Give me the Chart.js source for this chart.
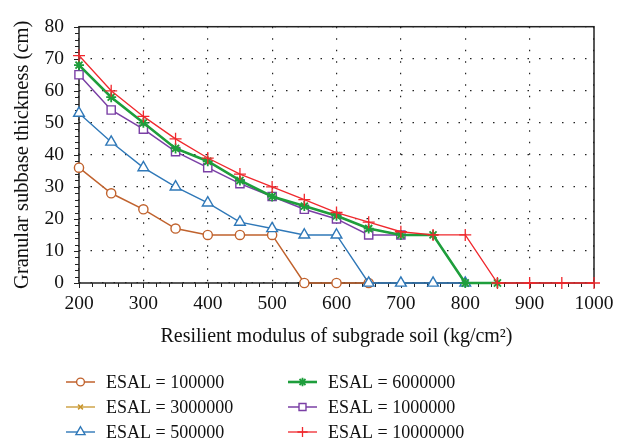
<!DOCTYPE html>
<html>
<head>
<meta charset="utf-8">
<script src="https://cdn.jsdelivr.net/npm/chart.js@4.4.0/dist/chart.umd.min.js"></script>
<style>
  html, body { margin: 0; padding: 0; background: #fff; }
  canvas { display: block; }
</style>
</head>
<body>
<canvas id="myChart" width="629" height="448"></canvas>
<script>
// x values (kg/cm2) and thickness (cm) for each ESAL
const modulus = [200, 250, 300, 350, 400, 450, 500, 550, 600, 650, 700, 750, 800, 850, 900, 950, 1000];
const esal100k = [36, 28, 23, 17, 15, 15, 15, 0, 0, 0];
const esal3m = [68, 58, 50, 42, 38, 32, 27, 24, 21, 17, 15, 15, 0, 0];
const esal500k = [53, 44, 36, 30, 25, 19, 17, 15, 15, 0, 0, 0, 0];
const esal6m = [68, 58, 50, 42, 38, 32, 27, 24, 21, 17, 15, 15, 0, 0];
const esal1m = [65, 54, 48, 41, 36, 31, 27, 23, 20, 15, 15];
const esal10m = [71, 60, 52, 45, 39, 34, 30, 26, 22, 19, 16, 15, 15, 0, 0, 0, 0];

const xTicks = [200, 300, 400, 500, 600, 700, 800, 900, 1000];
const yTicks = [0, 10, 20, 30, 40, 50, 60, 70, 80];

const serif = "'Liberation Serif', 'DejaVu Serif', serif";

function pts(arr) {
  return arr.map((v, i) => ({ x: modulus[i], y: v }));
}

// first dataset is drawn on top
const datasets = [
  { label: 'ESAL = 10000000', data: pts(esal10m), borderColor: '#f0282d', backgroundColor: '#f0282d',
    borderWidth: 1.3, pointStyle: 'cross', pointRadius: 6, pointBorderWidth: 1.3 },
  { label: 'ESAL = 6000000', data: pts(esal6m), borderColor: '#1e9e3c', backgroundColor: '#1e9e3c',
    borderWidth: 2.6, pointStyle: 'star', pointRadius: 5, pointBorderWidth: 1.8 },
  { label: 'ESAL = 3000000', data: pts(esal3m), borderColor: '#c8962d', backgroundColor: '#c8962d',
    borderWidth: 1.3, pointStyle: 'crossRot', pointRadius: 4, pointBorderWidth: 1.5 },
  { label: 'ESAL = 1000000', data: pts(esal1m), borderColor: '#7a3fa5', backgroundColor: '#fff',
    borderWidth: 1.5, pointStyle: 'rect', pointRadius: 5.8, pointBorderWidth: 1.4 },
  { label: 'ESAL = 500000', data: pts(esal500k), borderColor: '#2f78b8', backgroundColor: '#fff',
    borderWidth: 1.4, pointStyle: 'triangle', pointRadius: 6.2, pointBorderWidth: 1.4 },
  { label: 'ESAL = 100000', data: pts(esal100k), borderColor: '#c0622d', backgroundColor: '#fff',
    borderWidth: 1.5, pointStyle: 'circle', pointRadius: 4.6, pointBorderWidth: 1.4 }
];
datasets.forEach(d => { d.clip = false; });

// legend columns, by label
const legendCols = [
  ['ESAL = 100000', 'ESAL = 3000000', 'ESAL = 500000'],
  ['ESAL = 6000000', 'ESAL = 1000000', 'ESAL = 10000000']
];

const framePlugin = {
  id: 'frame',
  beforeDatasetsDraw(chart) {
    const ctx = chart.ctx;
    const a = chart.chartArea;
    const xs = chart.scales.x, ys = chart.scales.y;
    ctx.save();
    ctx.strokeStyle = '#222';
    ctx.lineWidth = 1.5;
    ctx.strokeRect(a.left, a.top, a.right - a.left, a.bottom - a.top);
    // outward tick marks (minor every 20 / 2)
    ctx.lineWidth = 1;
    ctx.beginPath();
    for (let v = xs.min; v <= xs.max; v += 20) {
      const px = Math.round(xs.getPixelForValue(v)) + 0.5;
      const len = v % 100 === 0 ? 5 : 4;
      ctx.moveTo(px, a.bottom);
      ctx.lineTo(px, a.bottom + len);
    }
    for (let v = ys.min; v <= ys.max; v += 2) {
      const py = Math.round(ys.getPixelForValue(v)) + 0.5;
      const len = v % 10 === 0 ? 5 : 4;
      ctx.moveTo(a.left, py);
      ctx.lineTo(a.left - len, py);
    }
    ctx.stroke();
    ctx.restore();
  },
  afterDraw(chart) {
    const ctx = chart.ctx;
    ctx.save();
    // legend in two columns
    const colX = [66, 288];
    const rowY = [382, 407, 432];
    ctx.font = '18px ' + serif;
    ctx.textBaseline = 'middle';
    ctx.fillStyle = '#111';
    legendCols.forEach((col, c) => {
      col.forEach((lab, r) => {
        const ds = chart.data.datasets.find(d => d.label === lab);
        const x0 = colX[c], y = rowY[r];
        ctx.save();
        ctx.strokeStyle = ds.borderColor;
        ctx.lineWidth = ds.borderWidth;
        ctx.beginPath();
        ctx.moveTo(x0, y);
        ctx.lineTo(x0 + 29, y);
        ctx.stroke();
        ctx.fillStyle = ds.backgroundColor;
        ctx.lineWidth = ds.pointBorderWidth;
        Chart.helpers.drawPoint(ctx, {
          pointStyle: ds.pointStyle,
          radius: ds.pointRadius * 0.85,
          borderWidth: ds.pointBorderWidth,
          rotation: 0
        }, x0 + 14.5, y);
        ctx.restore();
        ctx.fillText(lab, x0 + 40, y + 1);
      });
    });
    ctx.restore();
  }
};

new Chart(document.getElementById('myChart'), {
  type: 'line',
  data: { datasets: datasets },
  options: {
    responsive: false,
    animation: false,
    layout: { padding: { left: 0, top: 16, right: 35, bottom: 95 } },
    elements: { line: { tension: 0, fill: false } },
    plugins: {
      legend: { display: false },
      tooltip: { enabled: false }
    },
    scales: {
      x: {
        type: 'linear',
        min: 200,
        max: 1000,
        afterBuildTicks: s => { s.ticks = xTicks.map(v => ({ value: v })); },
        afterFit: s => { s.height = 70; },
        ticks: { color: '#111', font: { family: serif, size: 19.5 }, padding: 9, maxRotation: 0,
          callback: v => String(v) },
        grid: { color: '#222', lineWidth: 1.2, drawTicks: false },
        border: { display: false, dash: [1.5, 10] },
        title: {
          display: true,
          text: 'Resilient modulus of subgrade soil (kg/cm²)',
          color: '#111',
          font: { family: serif, size: 20 },
          padding: { top: 0, bottom: 4 }
        }
      },
      y: {
        min: 0,
        max: 80,
        afterBuildTicks: s => { s.ticks = yTicks.map(v => ({ value: v })); },
        afterFit: s => { s.width = 79; },
        ticks: { color: '#111', font: { family: serif, size: 19.5 }, padding: 15,
          callback: v => String(v) },
        grid: { color: '#222', lineWidth: 1.2, drawTicks: false },
        border: { display: false, dash: [1.5, 10] },
        title: {
          display: true,
          text: 'Granular subbase thickness (cm)',
          color: '#111',
          font: { family: serif, size: 20.5 },
          padding: { top: 10, bottom: 0 }
        }
      }
    }
  },
  plugins: [framePlugin]
});
</script>
</body>
</html>
